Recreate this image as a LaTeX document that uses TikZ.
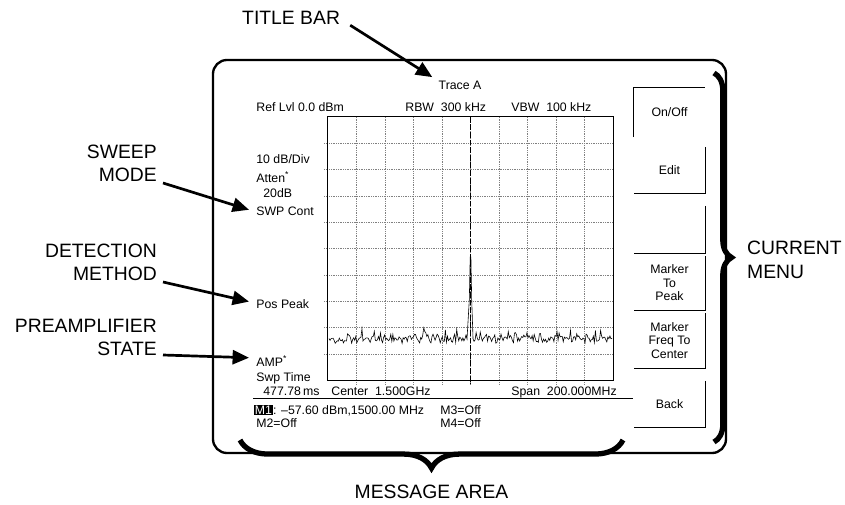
\documentclass[tikz,border=0pt]{standalone}
\usepackage{fontspec}
\setmainfont{Liberation Sans}
\usetikzlibrary{arrows.meta, calc, positioning, decorations.pathreplacing}

\begin{document}
\begin{tikzpicture}[
    x=0.03cm, y=-0.03cm,
    scr/.style={
        font=\fontsize{10.5}{11.5}\selectfont,
        inner sep=1pt
    },
    lbl/.style={
        font=\fontsize{16.5}{20}\selectfont,
        inner sep=0pt
    },
    pointer/.style={
        line width=2.3pt,
        -{Triangle[length=14pt, width=12pt]}
    },
    softkey/.style={
        minimum width=2.13cm,
        inner sep=0pt,
        align=center,
        font=\fontsize{10.5}{11.5}\selectfont
    },
    bevel/.style={
        line width=1pt
    },
    gridline/.style={
        gray,
        densely dotted,
        line width=0.5pt
    },
    brc/.style={
        decorate,
        line width=4.5pt
    }
]
    \useasboundingbox (0,0) rectangle (845,504);

    % Screen frame
    \node [draw, line width=2pt, rounded corners=0.42cm, minimum width=15.39cm, minimum height=11.79cm] (frame) at (469.5,256.5) {};

    % Plot area
    \node [minimum width=8.55cm, minimum height=7.89cm, inner sep=0pt] (plot) at (470.5,248.5) {};
    \foreach \i in {1,...,9} {
        \draw [gridline] ($(plot.north west)!\i/10!(plot.north east)$) -- ($(plot.south west)!\i/10!(plot.south east)+(0,4)$);
        \draw [gridline] ($(plot.north west)!\i/10!(plot.south west)+(-4,0)$) -- ($(plot.north east)!\i/10!(plot.south east)$);
    }
    \draw [line width=0.6pt, dash pattern=on 5pt off 1.5pt] (plot.north) -- ($(plot.south)+(0,4)$);
    \draw [line width=1pt] (plot.north west) rectangle (plot.south east);

    % Trace
    \pgfmathsetseed{11}
    \draw [line width=0.5pt] plot [domain=329:467, samples=135] (\x, {340 + 3.5*rand - 9*pow(rnd,3)})
        -- (469.3,300) -- (470.2,257) -- (470.9,257) -- (471.7,300) -- (473,338)
        -- plot [domain=473:612, samples=135] (\x, {340 + 3.5*rand - 9*pow(rnd,3)});

    % Screen texts
    \node [scr, anchor=base] (tracea) at (460,89) {Trace A};
    \node [scr, anchor=base west] (reflvl) at (255,111) {Ref Lvl 0.0 dBm};
    \node [scr, anchor=base west] (rbw) at (404,111) {RBW~~300 kHz};
    \node [scr, anchor=base west] (vbw) at (510,111) {VBW~~100 kHz};
    \node [scr, anchor=base west] (scale) at (255,163) {10 dB/Div};
    \node [scr, anchor=base west] (atten) at (255,182) {Atten\textsuperscript{*}};
    \node [scr, anchor=base west] (attval) at (262,197) {20dB};
    \node [scr, anchor=base west] (swpcont) at (255,215) {SWP Cont};
    \node [scr, anchor=base west] (pospeak) at (255,308) {Pos Peak};
    \node [scr, anchor=base west] (amp) at (255,366) {AMP\textsuperscript{*}};
    \node [scr, anchor=base west] (swptime) at (255,381) {Swp Time};
    \node [scr, anchor=base west] (swpval) at (262,395) {477.78\,ms};
    \node [scr, anchor=base west] (cfreq) at (330,395) {Center~~1.500GHz};
    \node [scr, anchor=base west] (span) at (510,395) {Span~~200.000MHz};

    % Message area
    \draw [line width=0.8pt] (253,398) -- (633,398);
    \node [scr, anchor=base west, fill=black, text=white, inner sep=0.6pt] (mtag) at (254,414) {M1};
    \node [scr, anchor=base west, inner sep=0pt] (m1) at (mtag.base east) {: \textendash57.60 dBm,1500.00 MHz};
    \node [scr, anchor=base west] (m3) at (439,414) {M3=Off};
    \node [scr, anchor=base west] (m2) at (255,427) {M2=Off};
    \node [scr, anchor=base west] (m4) at (439,427) {M4=Off};

    % Soft keys
    \node [softkey, minimum height=1.47cm] (onoff) at (669.5,112.5) {On/Off};
    \draw [bevel] (onoff.south west) -- (onoff.north west) -- (onoff.north east);
    \foreach \btn/\yc/\kh/\txt in {edit/170/1.38/Edit, blank/229.5/1.41/, topeak/283/1.62/{Marker\\To\\Peak}, tocenter/340.5/1.65/{Marker\\Freq To\\Center}, back/404/1.38/Back} {
        \node [softkey, minimum height=\kh cm] (\btn) at (669.5,\yc) {\txt};
        \draw [bevel] (\btn.north east) -- (\btn.south east) -- (\btn.south west);
    }

    % Callouts
    \node [lbl, anchor=base west] (titlebar) at (242,24) {TITLE BAR};
    \node [lbl, align=right, anchor=south east] (sweepmode) at (157,182) {SWEEP\\MODE};
    \node [lbl, align=right, anchor=south east] (detmethod) at (157,281) {DETECTION\\METHOD};
    \node [lbl, align=right, anchor=south east] (preamp) at (157,356) {PREAMPLIFIER\\STATE};
    \node [lbl, align=left, anchor=west] (curmenu) at (747,260) {CURRENT\\MENU};
    \node [lbl, anchor=base] (msgarea) at (431.5,498) {MESSAGE AREA};

    \draw [pointer] ($(titlebar.south east)+(10,1)$) -- ($(tracea.north west)+(-5,-2)$);
    \draw [pointer] ($(sweepmode.south east)+(6,1)$) -- ($(swpcont.west)+(-6,-1)$);
    \draw [pointer] ($(detmethod.south east)+(6,1)$) -- ($(pospeak.west)+(-6,-2)$);
    \draw [pointer] ($(preamp.south east)+(6,-1)$) -- ($(amp.west)+(-6,-3)$);

    % Braces
    \coordinate (menutop) at (714,73);
    \coordinate (menubot) at (714,442);
    \draw [brc, decoration={brace, amplitude=15pt}] (menutop) -- (menubot);
    \coordinate (msgright) at (623,440);
    \coordinate (msgleft) at (240,440);
    \draw [brc, decoration={brace, amplitude=24pt}] (msgright) -- (msgleft);

\end{tikzpicture}
\end{document}
